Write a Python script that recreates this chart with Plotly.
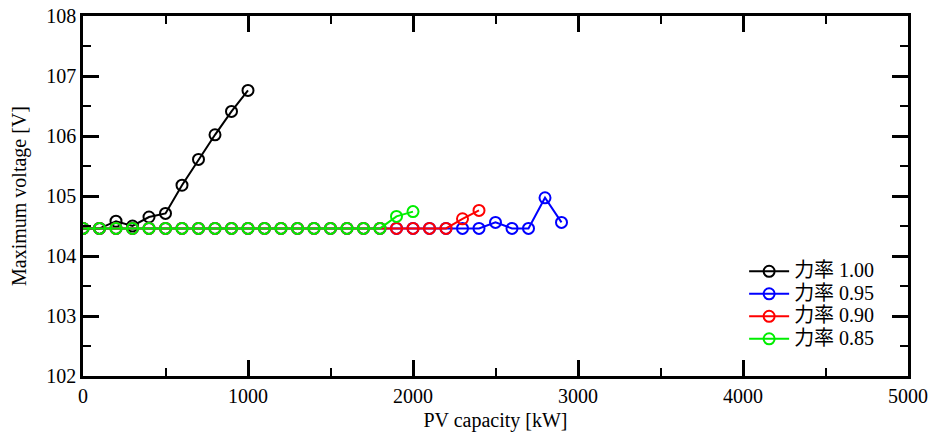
import plotly.graph_objects as go

pv_black = [0, 100, 200, 300, 400, 500, 600, 700, 800, 900, 1000]
v_black = [104.46, 104.46, 104.58, 104.50, 104.65, 104.71, 105.18, 105.61, 106.02, 106.41, 106.76]

pv_blue = [i * 100 for i in range(30)]
v_blue = [104.46] * 25 + [104.56, 104.46, 104.46, 104.97, 104.56]

pv_red = [i * 100 for i in range(25)]
v_red = [104.46] * 23 + [104.62, 104.76]

pv_green = [i * 100 for i in range(21)]
v_green = [104.46] * 19 + [104.66, 104.74]

names = ["力率 1.00", "力率 0.95", "力率 0.90", "力率 0.85"]
colors = ["#000000", "#0000ff", "#ff0000", "#00ee00"]
xs = [pv_black, pv_blue, pv_red, pv_green]
ys = [v_black, v_blue, v_red, v_green]

FONT = "Liberation Serif, 'Times New Roman', 'Noto Sans CJK JP', serif"

fig = go.Figure()
for x, y, n, c in zip(xs, ys, names, colors):
    fig.add_trace(go.Scatter(
        x=x, y=y, name='<span style="font-size:20px">' + n + '</span>',
        mode="lines+markers",
        line=dict(color=c, width=2),
        marker=dict(symbol="circle-open", size=11, color=c, line=dict(width=2, color=c)),
    ))

axis_common = dict(
    showline=True, linecolor="black", linewidth=2.5, mirror="ticks",
    ticks="inside", ticklen=16, tickwidth=2.5, tickcolor="black",
    showgrid=False, zeroline=False, automargin=False,
    ticklabeloverflow="allow",
    tickfont=dict(family=FONT, size=20, color="black"),
)

fig.update_layout(
    width=935, height=439,
    margin=dict(l=83, r=27, t=16, b=63),
    paper_bgcolor="white", plot_bgcolor="white",
    font=dict(family=FONT, size=20, color="black"),
    showlegend=True,
    legend=dict(
        x=0.965, y=0.336, xanchor="right", yanchor="top",
        bgcolor="rgba(0,0,0,0)", borderwidth=0,
        font=dict(family=FONT, size=15, color="black"),
        itemwidth=40, tracegroupgap=0,
    ),
    xaxis=dict(
        range=[0, 5000], dtick=1000, tick0=0,
        minor=dict(ticks="inside", ticklen=8, tickwidth=2, dtick=500, tickcolor="black"),
        title=dict(text="PV capacity [kW]", font=dict(family=FONT, size=20), standoff=8),
        **axis_common,
    ),
    yaxis=dict(
        range=[102, 108], dtick=1, tick0=102,
        minor=dict(ticks="inside", ticklen=8, tickwidth=2, dtick=0.5, tickcolor="black"),
        title=dict(text="Maximum voltage [V]", font=dict(family=FONT, size=20), standoff=15),
        **axis_common,
    ),
)

# remove the page's default 8px body margin so the figure fills the window exactly
fig.write_html(
    "out.html",
    config={"displayModeBar": False},
    post_script="document.body.style.margin='0px';",
)
